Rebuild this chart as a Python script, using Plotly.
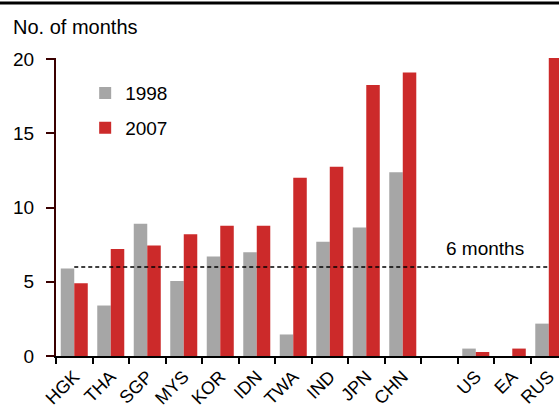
import plotly.graph_objects as go

categories = ["HGK", "THA", "SGP", "MYS", "KOR", "IDN", "TWA", "IND", "JPN", "CHN", " ", "US", "EA", "RUS"]
v1998 = [5.9, 3.4, 8.9, 5.05, 6.7, 6.98, 1.45, 7.7, 8.65, 12.37, None, 0.5, 0.0, 2.18]
v2007 = [4.9, 7.2, 7.45, 8.2, 8.77, 8.77, 12.0, 12.75, 18.25, 19.1, None, 0.27, 0.5, 20.1]
threshold = 6
tick_vals = [0, 5, 10, 15, 20]

FONT = "Liberation Sans, Arial, sans-serif"
PH = 298  # plot height in px

fig = go.Figure()
fig.add_trace(go.Bar(x=categories, y=v1998, name="1998", marker=dict(color="#A6A6A6", line=dict(width=0)),
                     legendgroup="a"))
fig.add_trace(go.Bar(x=categories, y=v2007, name="2007", marker=dict(color="#CC2A2A", line=dict(width=0)),
                     legendgroup="b"))
fig.add_trace(go.Scatter(x=[categories[0], categories[-1]], y=[threshold, threshold], mode="lines",
                         line=dict(color="black", width=1.5, dash="4px,3px"), showlegend=False, hoverinfo="skip"))

fig.add_annotation(x=11.25, y=7.27, xref="x", yref="y", text="6 months", showarrow=False,
                   font=dict(size=19, color="black", family=FONT))
fig.add_annotation(x=-56/503, y=1 + 31/PH, xref="paper", yref="paper", xanchor="left", yanchor="middle",
                   text="No. of months", showarrow=False, font=dict(size=20, color="black", family=FONT),
                   xshift=11)
fig.add_shape(type="line", xref="paper", yref="paper", x0=-0.2, x1=1.1, y0=1 + 55/PH, y1=1 + 55/PH,
              line=dict(color="black", width=3))

fig.update_layout(
    width=559, height=409,
    margin=dict(l=56, r=0, t=58, b=53, autoexpand=False),
    paper_bgcolor="white", plot_bgcolor="white",
    barmode="group", bargap=0.26, bargroupgap=0,
    font=dict(family=FONT, size=19, color="black"),
    showlegend=True,
    legend=dict(x=0.058, y=0.946, xanchor="left", yanchor="top", bgcolor="rgba(0,0,0,0)",
                font=dict(size=19, family=FONT), tracegroupgap=7, traceorder="grouped"),
    xaxis=dict(type="category", categoryorder="array", categoryarray=categories,
               range=[-0.5, 13.28], tickson="boundaries", ticks="outside", ticklen=6,
               tickcolor="black", tickwidth=2, showline=True, linecolor="black", linewidth=2,
               tickangle=-45, tickfont=dict(size=18, family=FONT), showgrid=False,
               automargin=False, ticklabelstandoff=1),
    yaxis=dict(range=[0, 20.07], tickvals=tick_vals, ticks="outside", ticklen=8,
               tickcolor="#3a0000", tickwidth=2, showline=True, linecolor="#3a0000", linewidth=2,
               tickfont=dict(size=19, family=FONT), showgrid=False, zeroline=False,
               automargin=False, ticklabelstandoff=8),
)

fig.write_html("out.html", config={"displayModeBar": False},
               post_script="document.body.style.margin='0';document.body.style.overflow='hidden';")
